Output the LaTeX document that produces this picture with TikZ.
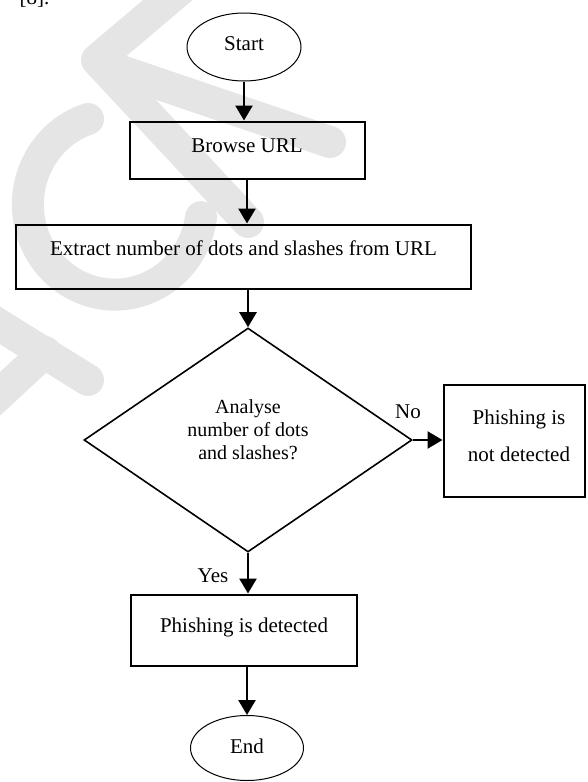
\documentclass[tikz,border=0pt]{standalone}
\usepackage{fontspec}
\setmainfont{Liberation Serif}
\usetikzlibrary{shapes.geometric,arrows.meta}
\begin{document}
\begin{tikzpicture}[x=1pt,y=-1pt,
  every node/.style={font=\fontsize{21}{25}\selectfont},
  boxnode/.style={draw, line width=2pt, rectangle, inner sep=0pt, text height=15pt},
  ovalnode/.style={draw, line width=1pt, ellipse, inner sep=0pt, text height=15pt, text depth=5pt},
  decnode/.style={draw, line width=1.6pt, diamond, inner sep=0pt},
  flow/.style={line width=2.6pt, -{Triangle[width=17pt,length=15pt]}},
  wmark/.style={draw=black!10, line width=32pt, line cap=round, line join=round},
]
\useasboundingbox (0,0) rectangle (587,782);

% watermark
\draw[wmark] (182,-12) -- (97,60) -- (248,222);
\draw[wmark] (118,70) -- (330,142);
\draw[wmark] (88,119) arc[start angle=252, end angle=8, x radius=87, y radius=90];
\draw[wmark] (-12,318) -- (88,380);
\draw[wmark] (-12,405) -- (45,352);

% text fragment at top
\node[anchor=base west] (ref) at (16,4) {[8].};

% nodes
\node[ovalnode, minimum width=114pt, minimum height=68pt, text depth=9pt] (start) at (244,47) {Start};
\node[boxnode, minimum width=235pt, minimum height=57pt, text depth=11pt] (browse) at (247,150) {Browse URL};
\node[boxnode, minimum width=455pt, minimum height=64pt, text depth=18pt] (extract) at (243.5,256.5) {Extract number of dots and slashes from URL};
\node[decnode, minimum width=328pt, minimum height=224pt] (dec) at (248,440) {};
\node[align=center, font=\fontsize{20}{23}\selectfont] (dectext) at (248,430) {Analyse\\number of dots\\and slashes?};
\node[boxnode, minimum width=141pt, minimum height=112pt] (notdet) at (514,440.5) {};
\node[align=center, font=\fontsize{21}{37}\selectfont] (notdettext) at (519,435.5) {Phishing is\\not detected};
\node[boxnode, minimum width=226pt, minimum height=71pt, text depth=11pt] (det) at (244,630) {Phishing is detected};
\node[ovalnode, minimum width=113pt, minimum height=65pt] (end) at (247,748) {End};

% labels
\node (no) at (408,412) {No};
\node (yes) at (213,576) {Yes};

% connectors
\draw[flow] (start.south) -- (start.south |- browse.north);
\draw[flow] (browse.south) -- (browse.south |- extract.north);
\draw[flow] (extract.south -| dec.north) -- (dec.north);
\draw[flow] (dec.east) -- (notdet.west |- dec.east);
\draw[flow] (dec.south) -- (dec.south |- det.north);
\draw[flow] (det.south -| end.north) -- (end.north);
\end{tikzpicture}
\end{document}
